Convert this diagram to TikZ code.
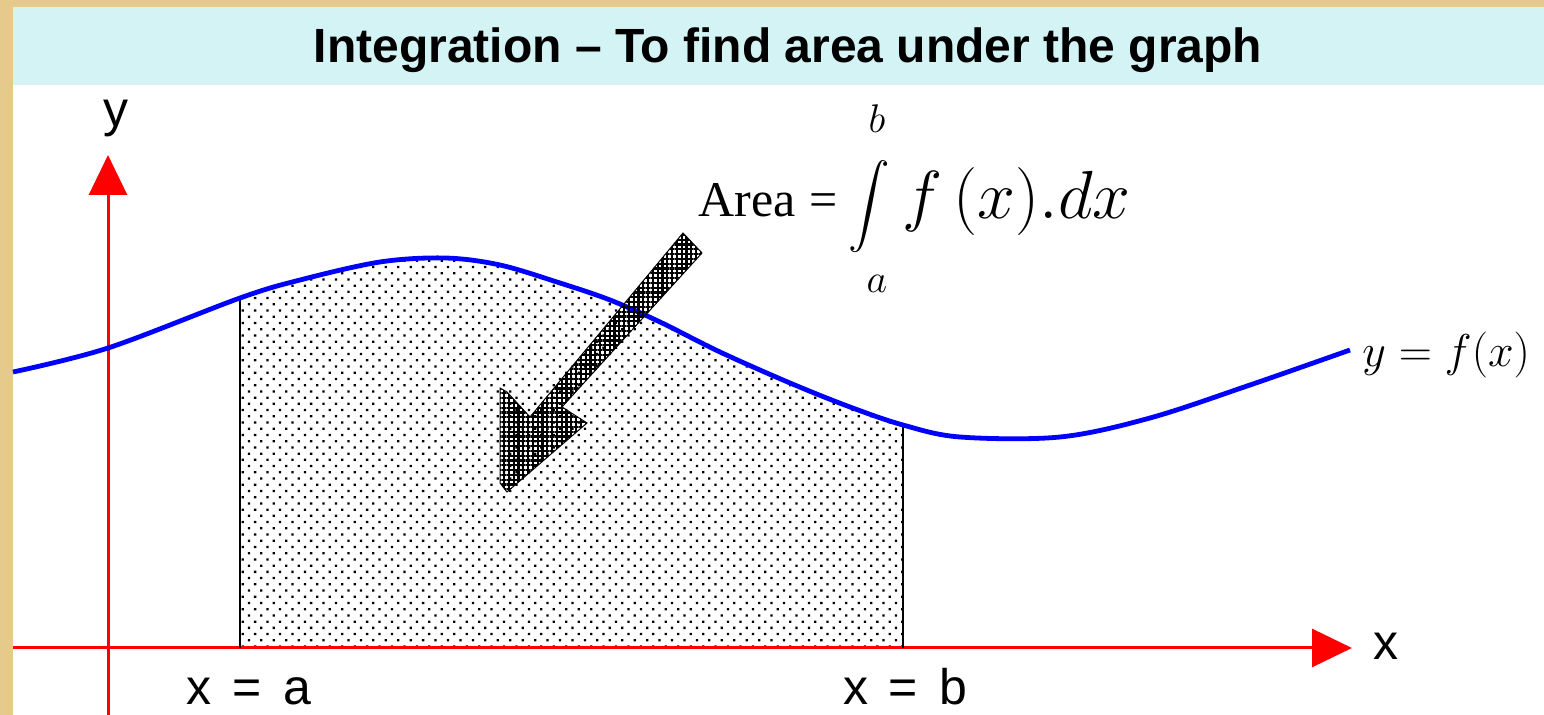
\RequirePackage{fix-cm}
\documentclass[tikz,border=0pt]{standalone}
\usepackage{amsmath}
\usepackage{fontspec}
\setmainfont{Liberation Serif}
\setsansfont{Liberation Sans}
\usetikzlibrary{arrows.meta, patterns.meta, positioning}
\definecolor{igParch}{HTML}{E6CA8C}
\definecolor{igTitle}{HTML}{D3F3F5}
\definecolor{igBlue}{HTML}{0000FF}
\definecolor{igRed}{HTML}{FF0000}
\tikzset{
  axis/.style={draw=igRed, line width=1.5pt, -{Triangle[length=20pt, width=19pt]}},
  curve/.style={draw=igBlue, line width=2.4pt},
  fcurve/.style={insert path={plot[smooth, tension=0.55] coordinates {
    (13,372) (108,348) (240,298) (300,280) (380,262) (445,258) (500,265)
    (560,283) (610,300) (660,322) (720,352) (790,383) (850,407) (903,425)
    (960,437) (1060,437) (1150,418) (1250,385) (1350,350)}}},
  bound/.style={draw=black, line width=1pt},
  axlbl/.style={font=\sffamily\fontsize{25}{25}\selectfont, inner sep=0pt, anchor=base},
  ttl/.style={font=\sffamily\bfseries\fontsize{24}{24}\selectfont, inner sep=0pt, anchor=base},
  mathlbl/.style={inner sep=0pt, anchor=base},
}
\newcommand{\gap}{\hspace{0.42em}}

\begin{document}
\begin{tikzpicture}[x=0.5pt, y=-0.5pt]
  \clip (0,0) rectangle (1544,715);
  % background, title bar and panel
  \fill[igParch] (0,0) rectangle (1544,715);
  \fill[igTitle] (13,7) rectangle (1544,85);
  \fill[white] (13,85) rectangle (1544,715);
  \node[ttl] (title) at (788,63) {Integration – To find area under the graph};

  % shaded area under the graph
  \begin{scope}
    \clip (240,90) rectangle (903,648);
    \fill[pattern={Dots[distance=4.4pt, radius=0.8pt, angle=45]}]
      [fcurve] -- (1350,648) -- (13,648) -- cycle;
  \end{scope}

  % axes
  \coordinate (xl) at (13,648);
  \coordinate (xr) at (1352,648);
  \coordinate (yb) at (108,715);
  \coordinate (yt) at (108,155);
  \draw[axis] (xl) -- (xr);
  \draw[axis] (yb) -- (yt);
  \node[axlbl] (ylab) at (116,127) {y};
  \node[axlbl] (xlab) at (1386,660) {x};

  % limits
  \coordinate (xa) at (240,298);
  \coordinate (xb) at (903,425);
  \draw[bound] (xa) -- (xa |- xl);
  \draw[bound] (xb) -- (xb |- xl);
  \node[axlbl] (lbla) at (249,705) {x\gap=\gap a};
  \node[axlbl] (lblb) at (905,705) {x\gap=\gap b};

  % the curve
  \draw[curve] [fcurve];
  \node[mathlbl, anchor=base west] (flab) at (1362,367) {\fontsize{23}{23}\selectfont$y = f(x)$};

  % formula
  \node[mathlbl, anchor=base west] (area) at (698,217) {\fontsize{25}{25}\selectfont Area\;=};
  \node[inner sep=0pt] (intg) at (869,207) {\fontsize{21}{21}\selectfont$\displaystyle\int$};
  \node[mathlbl] (ub) at (877,133) {\fontsize{20}{20}\selectfont$b$};
  \node[mathlbl] (lb) at (877,293) {\fontsize{20}{20}\selectfont$a$};
  \node[mathlbl, anchor=base west] (fx) at (902,219) {\fontsize{34}{34}\selectfont$f\,(x).dx$};

  % pointer arrow
  \filldraw[draw=black, line width=0.5pt, fill=white,
    pattern={Hatch[distance=2.4pt, line width=1.1pt]}]
    (683,233) -- (702,253) -- (562,407) -- (587,423) -- (507,492) -- (500,483)
    -- (500,388) -- (507,392) -- (530,417) -- cycle;
\end{tikzpicture}
\end{document}
